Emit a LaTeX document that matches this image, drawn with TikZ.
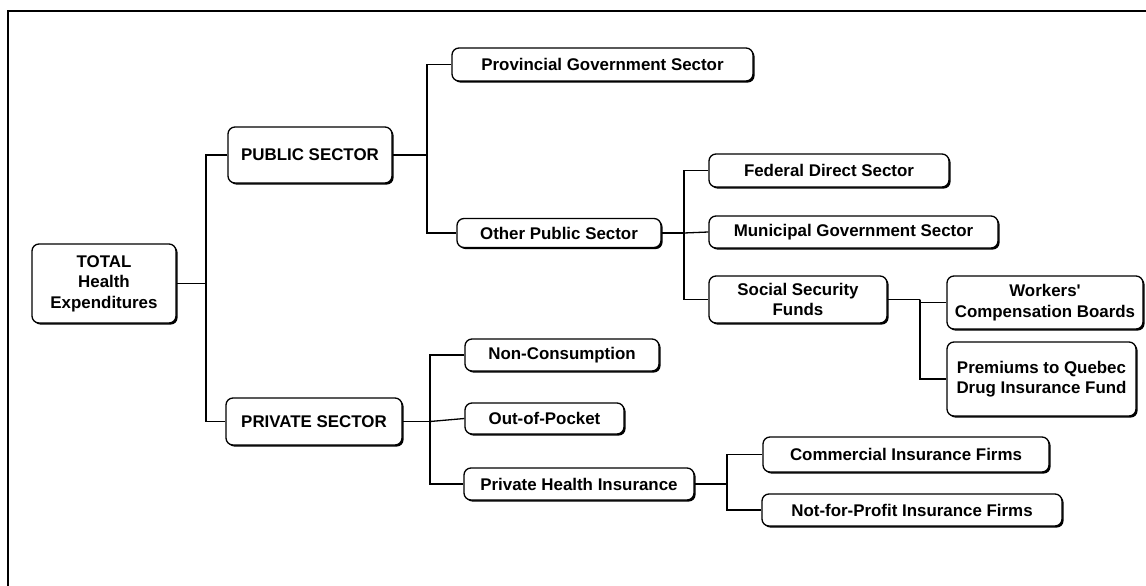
\documentclass[tikz,border=0pt]{standalone}
\usepackage{fontspec}
\setmainfont{Liberation Sans}
\usetikzlibrary{shadows}
\begin{document}
\begin{tikzpicture}[x=1pt,y=-1pt,
  box/.style={draw=black, line width=1.3pt, fill=white, rounded corners=7pt,
    align=center, inner sep=0pt, font=\fontsize{16.9}{20.5}\selectfont\bfseries,
    general shadow={fill=black, shadow xshift=1.6pt, shadow yshift=-1.6pt}},
  conn/.style={draw=black, line width=1.3pt},
  frame/.style={draw=black, line width=1.4pt}]
\useasboundingbox (0,0) rectangle (1146,586);
\draw[frame] (8,586) -- (8,11) -- (1146,11);

\node[box, minimum width=144pt, minimum height=79pt] (tot) at (104,283.5) {TOTAL\\Health\\Expenditures};
\node[box, minimum width=164pt, minimum height=56pt] (pub) at (310,155) {PUBLIC SECTOR};
\node[box, minimum width=176pt, minimum height=47pt] (priv) at (314,421.5) {PRIVATE SECTOR};
\node[box, minimum width=301pt, minimum height=33pt] (prov) at (602.5,64.5) {Provincial Government Sector};
\node[box, minimum width=204pt, minimum height=29pt] (oth) at (559,233) {Other Public Sector};
\node[box, minimum width=240pt, minimum height=33pt] (fed) at (829,170.5) {Federal Direct Sector};
\node[box, minimum width=289pt, minimum height=32pt] (mun) at (853.5,232) {Municipal Government Sector};
\node[box, minimum width=178pt, minimum height=47pt] (ssf) at (798,299.5) {Social Security\\Funds};
\node[box, minimum width=196pt, minimum height=53pt] (wcb) at (1045,302.5) {Workers\textquotesingle\\Compensation Boards};
\node[box, minimum width=189pt, minimum height=74pt] (prem) at (1041.5,379) {Premiums to Quebec\\Drug Insurance Fund};
\node[box, minimum width=194pt, minimum height=32pt] (noncon) at (562,355) {Non-Consumption};
\node[box, minimum width=159pt, minimum height=31pt] (oop) at (544.5,418.5) {Out-of-Pocket};
\node[box, minimum width=230pt, minimum height=32pt] (phi) at (579,484) {Private Health Insurance};
\node[box, minimum width=286pt, minimum height=35pt] (com) at (906,454.5) {Commercial Insurance Firms};
\node[box, minimum width=300pt, minimum height=32pt] (nfp) at (912,510) {Not-for-Profit Insurance Firms};

\coordinate (j1) at (206,283.5);
\coordinate (j2) at (427,155);
\coordinate (j3) at (684,233);
\coordinate (j4) at (920,299.5);
\coordinate (j5) at (430,421.5);
\coordinate (j6) at (727,484);

\draw[conn] (tot.east) -- (j1);
\draw[conn] (pub.west) -| (j1) |- (priv.west);
\draw[conn] (pub.east) -- (j2);
\draw[conn] (prov.west) -| (j2) |- (oth.west);
\draw[conn] (oth.east) -- (j3);
\draw[conn] (mun.west) -- (j3);
\draw[conn] (fed.west) -| (j3) |- (ssf.west);
\draw[conn] (ssf.east) -- (j4);
\draw[conn] (wcb.west) -| (j4) |- (prem.west);
\draw[conn] (priv.east) -- (j5);
\draw[conn] (oop.west) -- (j5);
\draw[conn] (noncon.west) -| (j5) |- (phi.west);
\draw[conn] (phi.east) -- (j6);
\draw[conn] (com.west) -| (j6) |- (nfp.west);
\end{tikzpicture}
\end{document}
